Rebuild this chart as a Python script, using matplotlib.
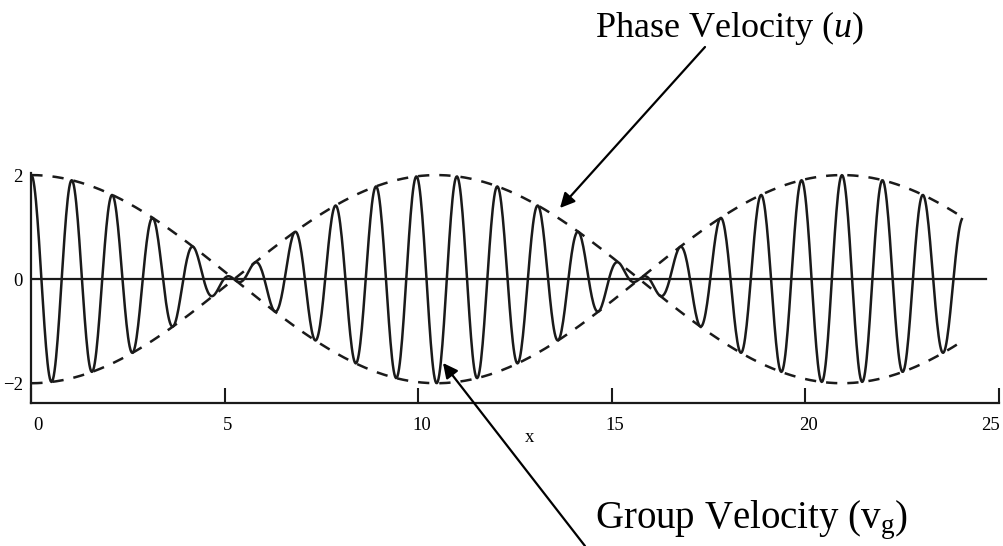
import numpy as np
import matplotlib
matplotlib.use("Agg")
import matplotlib.pyplot as plt
import matplotlib.transforms as mtransforms

# ---- data ----
k_waves = [6.3, 5.7]          # wave numbers of the two superposed waves
x_range = [0.0, 24.05]        # plotted x interval
x_step = 0.02
x_ticks = [0, 5, 10, 15, 20, 25]
y_ticks = [-2, 0, 2]
y_ticklabels = ["\u22122", "0", "2"]
zero_line_x = [0.0, 24.67]
phase_label = "Phase Velocity ($\\mathit{u}$)"
group_label = "Group Velocity ($\\mathrm{v}_{\\mathrm{g}}$)"

plt.rcParams['mathtext.fontset'] = 'custom'
plt.rcParams['mathtext.rm'] = 'Liberation Serif'
plt.rcParams['mathtext.it'] = 'Liberation Serif:italic'

x = np.arange(x_range[0], x_range[1] + 1e-9, x_step)
k1, k2 = k_waves
y = np.cos(k1 * x) + np.cos(k2 * x)
dk = (k1 - k2) / 2.0
env = 2 * np.cos(dk * x)

fig = plt.figure(figsize=(10.04, 5.46), dpi=100)
ax = fig.add_axes([31.3 / 1004, 1 - 403 / 546, (999 - 31.3) / 1004, 230 / 546])
ax.set_xlim(0, 25)
ax.set_ylim(-2.38, 2.04)

ax.plot(x, y, color="#1a1a1a", lw=1.8)
ax.plot(x, env, color="#1a1a1a", lw=1.8, dashes=(4.5, 4))
ax.plot(x, -env, color="#1a1a1a", lw=1.8, dashes=(4.5, 4))
ax.plot(zero_line_x, [0, 0], color="#1a1a1a", lw=1.6)

for s in ["top", "right"]:
    ax.spines[s].set_visible(False)
for s in ["left", "bottom"]:
    ax.spines[s].set_linewidth(1.6)
    ax.spines[s].set_color("#1a1a1a")

ax.set_xticks(x_ticks)
ax.set_xticklabels([str(t) for t in x_ticks], fontfamily="Liberation Serif", fontsize=13.5)
ax.tick_params(axis="x", direction="in", length=11, width=1.5, pad=10, color="#1a1a1a")
ax.set_yticks(y_ticks)
ax.set_yticklabels(y_ticklabels, fontfamily="Liberation Serif", fontsize=13.5)
ax.tick_params(axis="y", length=0, pad=6)

# small horizontal offsets of the x tick labels as in the reference
offsets_px = [7, 3, 3, 3, 3, -8]
for lab, dx in zip(ax.get_xticklabels(), offsets_px):
    lab.set_transform(lab.get_transform() +
                      mtransforms.ScaledTranslation(dx / 100, 0, fig.dpi_scale_trans))

ax.set_xlabel("x", fontfamily="Liberation Serif", fontsize=13.5)
ax.xaxis.set_label_coords(12.87 / 25, -0.115)

# annotations
fig.text(595 / 1004, 1 - 37 / 546, phase_label, fontfamily="Liberation Serif",
         fontsize=26, va="baseline", ha="left")
fig.text(595 / 1004, 1 - 528 / 546, group_label, fontfamily="Liberation Serif",
         fontsize=28, va="baseline", ha="left")

arrow_kw = dict(arrowstyle="-|>", color="black", lw=1.6, mutation_scale=22,
                shrinkA=0, shrinkB=0)
ax.annotate("", xy=(560, 546 - 208), xycoords="figure pixels",
            xytext=(705, 546 - 47), textcoords="figure pixels", arrowprops=arrow_kw)
ax.annotate("", xy=(443, 546 - 363), xycoords="figure pixels",
            xytext=(585, 546 - 546), textcoords="figure pixels", arrowprops=arrow_kw)

fig.savefig("out.png", dpi=100)
